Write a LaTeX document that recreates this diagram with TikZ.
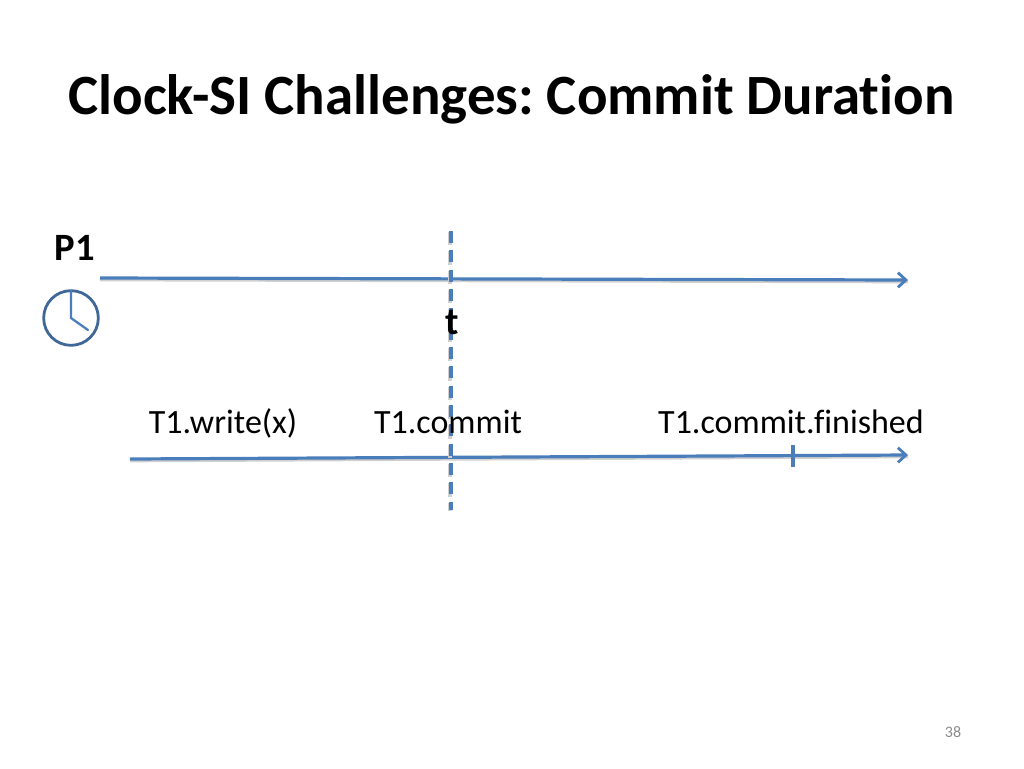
\documentclass[tikz,border=0pt]{standalone}
\usepackage{fontspec}
\setmainfont[Ligatures=NoCommon]{Carlito}
\usepackage{xcolor}
\usetikzlibrary{calc,arrows.meta}
\definecolor{line}{HTML}{4A7EBB}
\definecolor{clockc}{HTML}{3F6797}
\definecolor{ink}{HTML}{000000}
\definecolor{muted}{HTML}{8B8B8B}
\definecolor{shade}{HTML}{D0D0D0}
\tikzset{
  shadowed/.style={preaction={draw=shade, line width=2.6pt, -, transform canvas={yshift=-1.2pt}}},
  tline/.style={shadowed, draw=line, line width=2.4pt, -{Straight Barb[length=6pt,width=11pt,line width=2.1pt]}},
  tick/.style={draw=line, line width=2.6pt},
  cut/.style={draw=line, line width=2.7pt, dash pattern=on 9pt off 5.5pt,
    preaction={draw=shade, line width=2.8pt, dash pattern=on 10pt off 4.5pt, transform canvas={xshift=-0.5pt,yshift=-0.8pt}}},
  hand/.style={draw=line, line width=1.7pt, line cap=round},
  title/.style={text=ink, font=\bfseries\fontsize{42.7}{50}\selectfont, inner sep=0pt, anchor=base},
  lab/.style={text=ink, font=\fontsize{25.5}{30}\selectfont, inner sep=0pt, anchor=base},
  labb/.style={text=ink, font=\bfseries\fontsize{29}{34}\selectfont, inner sep=0pt, anchor=base},
  pagenum/.style={text=muted, font=\fontsize{12}{14}\selectfont, inner sep=0pt, anchor=base}
}
\begin{document}
\frenchspacing
\begin{tikzpicture}[x=0.75pt,y=-0.75pt]
  \useasboundingbox[fill=white] (0,0) rectangle (1024,768);

  \node[title] (head) at (511.5,114) {Clock-SI Challenges: Commit Duration};

  % upper time line
  \coordinate (pa) at (100,278);
  \coordinate (pb) at (908,280);
  \draw[tline] (pa) -- (pb);
  \node[labb] (pone) at (75,260) {P1};

  % clock
  \node[circle, draw=clockc, line width=2.1pt, minimum size=41pt, inner sep=0pt] (clock) at (71,318) {};
  \coordinate (hcen) at (71,318);
  \coordinate (htop) at (71,291);
  \coordinate (hlow) at (88,330);
  \draw[hand] (htop) -- (hcen) -- (hlow);

  % lower time line
  \coordinate (qa) at (130,459);
  \coordinate (qb) at (908,455);
  \draw[tline] (qa) -- (qb);
  \coordinate (fa) at (793,445);
  \coordinate (fb) at (793,467);
  \draw[tick] (fa) -- (fb);

  % cut
  \coordinate (ca) at (451,231);
  \coordinate (cb) at (451,510);
  \draw[cut] (ca) -- (cb);

  \node[labb] (tlab) at (452,334) {t};
  \node[lab] (write) at (223,433) {T1.write(x)};
  \node[lab] (commit) at (448,433) {T1.commit};
  \node[lab] (finish) at (791,433) {T1.commit.finished};
  \node[pagenum] (pg) at (953,737) {38};
\end{tikzpicture}
\end{document}
